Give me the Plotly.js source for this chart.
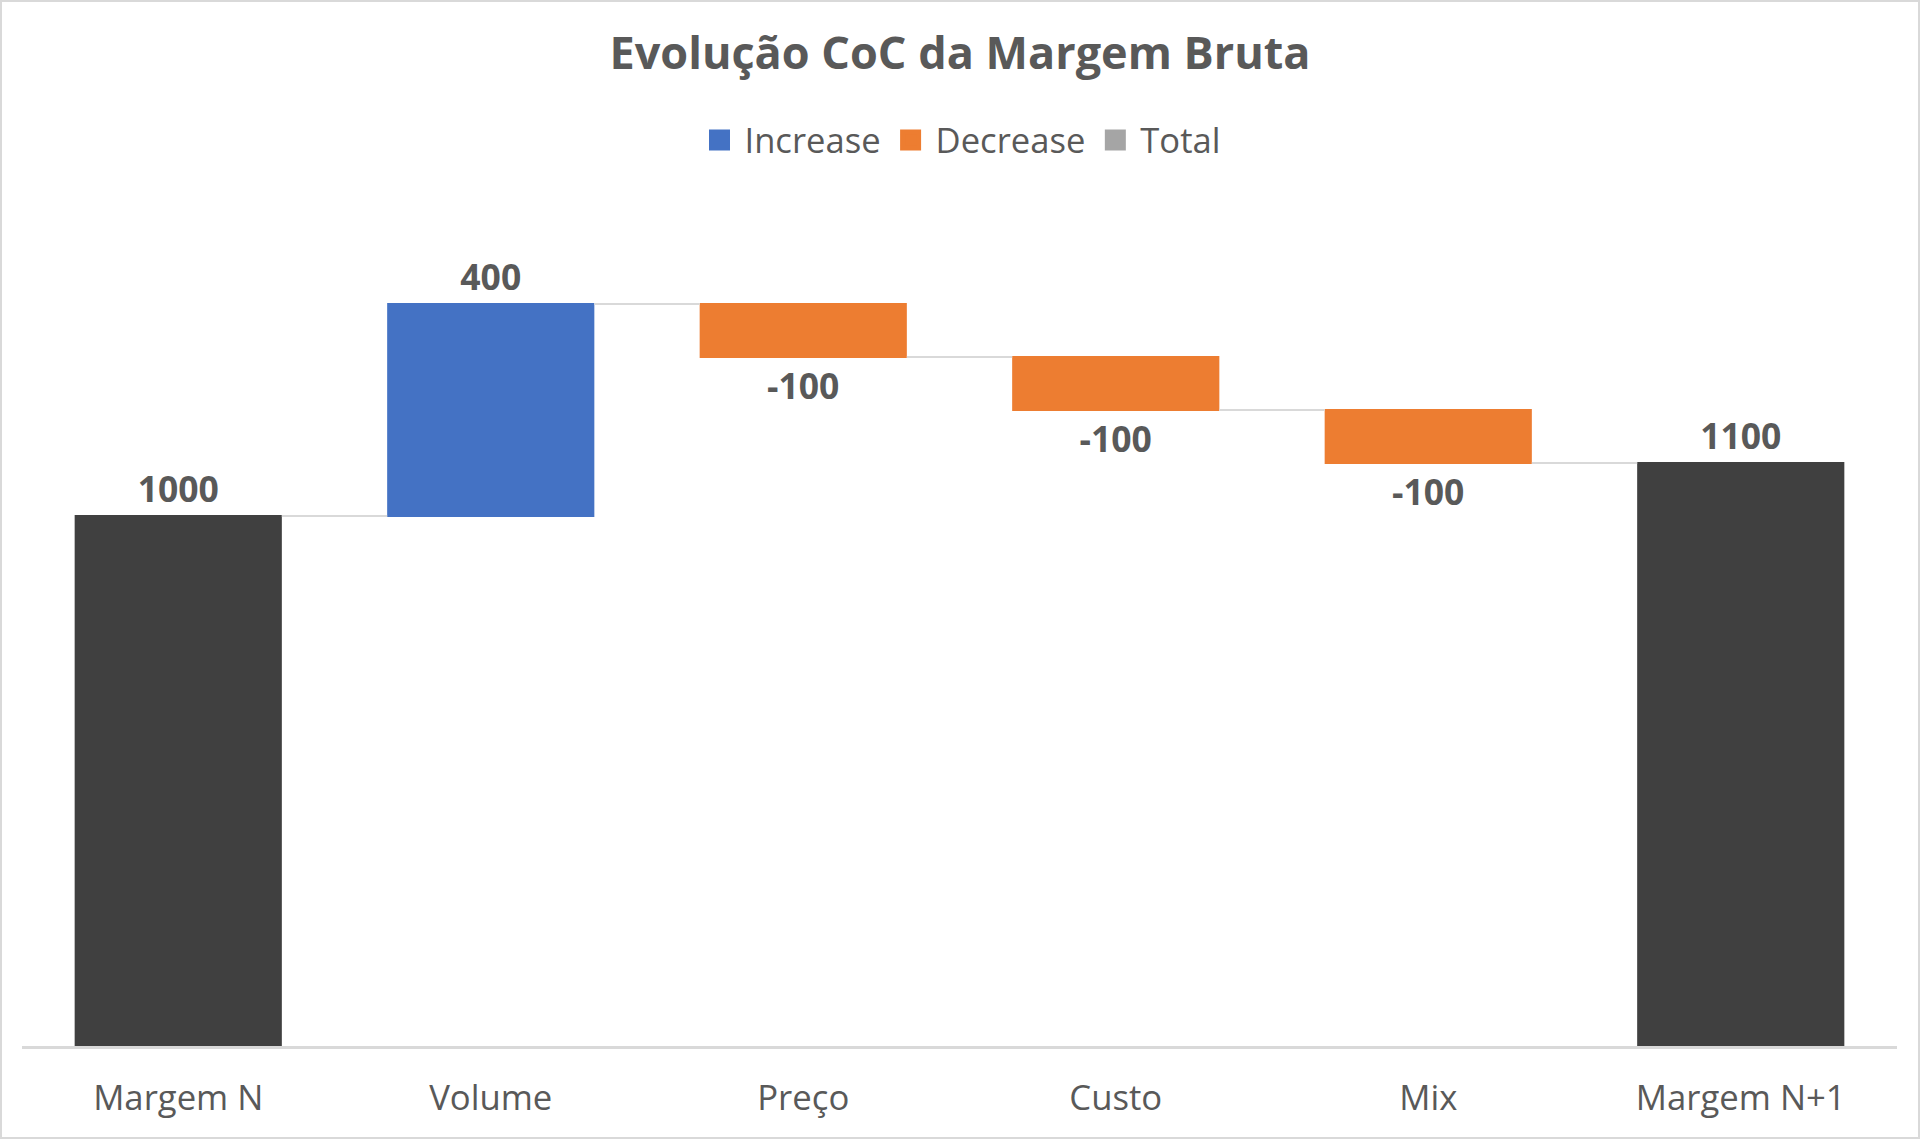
<!DOCTYPE html>
<html>
<head>
<meta charset="utf-8">
<script src="https://cdn.plot.ly/plotly-3.0.1.min.js"></script>
<style>
	html, body { margin: 0; padding: 0; background: #fff; }
	#chart { width: 1916px; height: 1135px; border: 2px solid #D9D9D9; }
</style>
</head>
<body>
<div id="chart"></div>
<script>
(function () {

	'use strict';

	// chart data
	const categories = [ 'Margem N', 'Volume', 'Preço', 'Custo', 'Mix', 'Margem N+1' ];
	const measures   = [ 'absolute', 'relative', 'relative', 'relative', 'relative', 'total' ];
	const values     = [ 1000, 400, -100, -100, -100, 0 ];
	const legendNames = [ 'Increase', 'Decrease', 'Total' ];

	const textGrey = '#595959';
	const colors = {
		increase: '#4472C4',
		decrease: '#ED7D31',
		total: '#404040',
		totalKey: '#A5A5A5',
		line: '#D9D9D9'
	};
	const font = '"Open Sans", "Noto Sans", sans-serif';

	/**
	* labels - totals show the running sum
	*/
	let running = 0;
	const labels = values.map( ( v, i ) => {
		if ( measures[i] === 'absolute' ) running = v;
		else if ( measures[i] === 'relative' ) running += v;
		return measures[i] === 'total' ? String( running ) : String( v );
	});

	const waterfall = {
		type: 'waterfall',
		x: categories,
		y: values,
		measure: measures,
		text: labels,
		textposition: 'outside',
		textfont: { family: font, size: 35.5, color: textGrey, weight: 'bold' },
		cliponaxis: false,
		increasing: { marker: { color: colors.increase } },
		decreasing: { marker: { color: colors.decrease } },
		totals: { marker: { color: colors.total } },
		connector: { line: { color: colors.line, width: 2 } },
		hoverinfo: 'skip',
		showlegend: false
	};

	// legend only entries (a single null point, nothing drawn)
	const keyColors = [ colors.increase, colors.decrease, colors.totalKey ];
	const keys = legendNames.map( ( name, i ) => ({
		type: 'scatter',
		mode: 'markers',
		x: [ categories[0] ],
		y: [ null ],
		name,
		marker: {
			symbol: 'square',
			size: 16,
			color: keyColors[i],
			line: { color: keyColors[i], width: 5 }
		},
		hoverinfo: 'skip'
	}));

	const layout = {
		width: 1916,
		height: 1135,
		paper_bgcolor: '#fff',
		plot_bgcolor: '#fff',
		margin: { l: 20, r: 21, t: 196, b: 91 },
		font: { family: font, color: textGrey },
		title: {
			text: 'Evolução CoC da Margem Bruta',
			font: { family: font, size: 45, color: textGrey, weight: 'bold' },
			x: 0.5,
			xanchor: 'center',
			y: 1 - 51 / 1135,
			yref: 'container',
			yanchor: 'middle'
		},
		showlegend: true,
		legend: {
			orientation: 'h',
			x: 0.5,
			xref: 'container',
			xanchor: 'center',
			y: 1 - 138 / 1135,
			yref: 'container',
			yanchor: 'middle',
			itemwidth: 40,
			font: { family: font, size: 34.6, color: textGrey },
			itemclick: false,
			itemdoubleclick: false
		},
		waterfallgap: 0.337,
		xaxis: {
			type: 'category',
			showline: true,
			linecolor: colors.line,
			linewidth: 2.5,
			showgrid: false,
			zeroline: false,
			ticks: '',
			ticklabelstandoff: 20,
			tickfont: { family: font, size: 34.7, color: textGrey },
			fixedrange: true
		},
		yaxis: {
			range: [ 0, 1600 ],
			visible: false,
			showgrid: false,
			zeroline: false,
			fixedrange: true
		}
	};

	Plotly.newPlot( 'chart', [ waterfall, ...keys ], layout, { displayModeBar: false, responsive: false } );

})();
</script>
</body>
</html>
